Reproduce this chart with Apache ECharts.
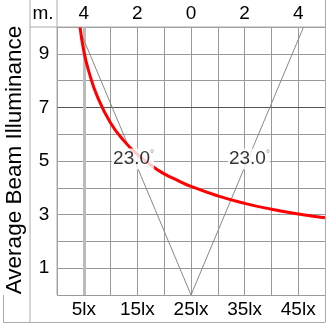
<!DOCTYPE html>
<html><head><meta charset="utf-8">
<script src="https://cdn.jsdelivr.net/npm/echarts@6/dist/echarts.min.js"></script>
<style>html,body{margin:0;padding:0;background:#fff}#c{width:327px;height:323px}</style>
</head><body><div id="c"></div>
<script>
const xTickValues = [5, 15, 25, 35, 45];
const xTickLabels = ['5lx', '15lx', '25lx', '35lx', '45lx'];
const topTickLabels = ['4', '2', '0', '2', '4'];
const yTickValues = [1, 3, 5, 7, 9];
const curveX = [4.3, 5, 6, 7.5, 10, 12.5, 15, 17.5, 20, 22.5, 25, 30, 35, 40, 45, 50];
const curveY = [10, 9.1, 8.3, 7.42, 6.42, 5.75, 5.25, 4.85, 4.52, 4.28, 4.05, 3.7, 3.42, 3.2, 3.02, 2.88];
const beamX = [4, 25, 46];
const beamY = [10, 0, 10];
const angleX = [14.2, 35.8];
const angleY = [5.07, 5.07];
const angleText = ['23.0', '23.0'];
const titleText = 'Average Beam Illuminance';

const FONT = 'Liberation Sans, Arial, sans-serif';
const frame = '#aaa';
const chart = echarts.init(document.getElementById('c'), null, {renderer: 'canvas'});
const L = 57, T = 27, W = 268, H = 268;
function seg(x1, y1, x2, y2, c) {
  return {type: 'line', shape: {x1, y1, x2, y2}, style: {stroke: c || frame, lineWidth: 1}, silent: true, z: 10};
}
chart.setOption({
  animation: false,
  grid: {left: L, top: T, width: W, height: H},
  xAxis: [{
    type: 'value', min: 0, max: 50, interval: 5, position: 'bottom',
    axisLine: {show: false}, axisTick: {show: false},
    splitLine: {show: true, lineStyle: {color: '#999', width: 1}},
    axisLabel: {customValues: xTickValues, formatter: v => xTickLabels[xTickValues.indexOf(v)],
      fontSize: 19, fontFamily: FONT, color: '#000', margin: 15, verticalAlign: 'middle'}
  }, {
    type: 'value', min: 0, max: 50, interval: 5, position: 'top',
    axisLine: {show: false}, axisTick: {show: false}, splitLine: {show: false},
    axisLabel: {customValues: xTickValues, formatter: v => topTickLabels[xTickValues.indexOf(v)],
      fontSize: 19, fontFamily: FONT, color: '#000', margin: 13, verticalAlign: 'middle'}
  }],
  yAxis: {
    type: 'value', min: 0, max: 10, interval: 1,
    axisLine: {show: false}, axisTick: {show: false},
    splitLine: {show: true, lineStyle: {color: '#999', width: 1}},
    axisLabel: {customValues: yTickValues, fontSize: 19, fontFamily: FONT, color: '#000', margin: 13, align: 'center'}
  },
  series: [{
    type: 'line', data: beamX.map((x, i) => [x, beamY[i]]), symbol: 'none', z: 3,
    lineStyle: {color: '#888', width: 1},
    markLine: {silent: true, symbol: 'none', label: {show: false}, z: 1,
      data: [{yAxis: 7, lineStyle: {color: '#555', width: 1, type: 'solid'}},
             {xAxis: 5, lineStyle: {color: '#bbb', width: 3, type: 'solid'}}]}
  }, {
    type: 'line', data: curveX.map((x, i) => [x, curveY[i]]), symbol: 'none', smooth: true, z: 5,
    lineStyle: {color: '#ff0000', width: 3}
  }, {
    type: 'scatter', data: angleX.map((x, i) => [x, angleY[i], angleText[i]]), symbolSize: 0, z: 8,
    label: {show: true, position: 'inside', formatter: p => '{a|' + p.data[2] + '}{d|°}',
      backgroundColor: '#fff', padding: [1, 0, 1, 1],
      rich: {a: {fontSize: 19, fontFamily: FONT, color: '#000'},
             d: {fontSize: 10, fontFamily: FONT, color: '#777', padding: [0, 0, 9, 0]}}}
  }],
  graphic: [
    seg(30, 0, 30, 322), seg(57, 0, 57, 295), seg(30, 27, 325.5, 27),
    seg(325.5, 0, 325.5, 322), seg(3, 322.5, 325.5, 322.5), seg(3.5, 295, 3.5, 322.5),
    {type: 'text', x: 43, y: 14, silent: true, z: 10,
      style: {text: 'm.', fontSize: 19, fontFamily: FONT, fill: '#000', align: 'center', verticalAlign: 'middle'}},
    {type: 'text', x: 15, y: 160, rotation: Math.PI / 2, silent: true, z: 10,
      style: {text: titleText, fontSize: 22.5, fontFamily: FONT, fill: '#000', align: 'center', verticalAlign: 'middle'}}
  ]
});
</script></body></html>
